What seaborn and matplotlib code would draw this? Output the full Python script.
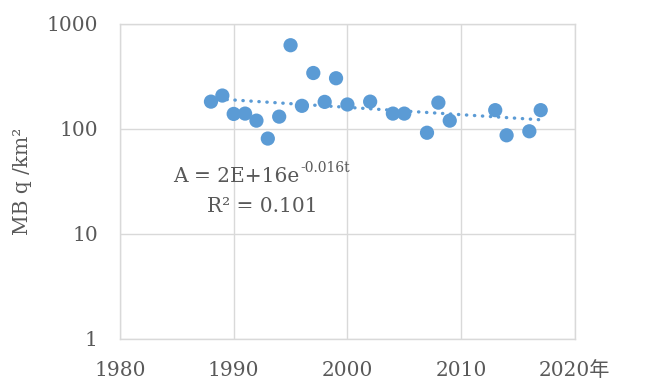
import numpy as np
import pandas as pd
import matplotlib
matplotlib.use("Agg")
import matplotlib.pyplot as plt
import seaborn as sns

years = [1988, 1989, 1990, 1991, 1992, 1993, 1994, 1995, 1996, 1997, 1998, 1999,
         2000, 2002, 2004, 2005, 2007, 2008, 2009, 2013, 2014, 2016, 2017]
mbq = [182, 208, 139, 140, 120, 81, 131, 627, 166, 341, 181, 304,
       171, 182, 140, 140, 92, 178, 120, 151, 87, 95, 151]
x_ticks = [1980, 1990, 2000, 2010, 2020]
x_tick_labels = ["1980", "1990", "2000", "2010", "2020年"]
y_ticks = [1, 10, 100, 1000]
y_tick_labels = ["1", "10", "100", "1000"]
eq_base = "A = 2E+16e"
eq_exp = "-0.016t"
r2_text = "R² = 0.101"
y_label = "MB q /km²"

sns.set_theme(style="white")
plt.rcParams['font.family'] = ['DejaVu Serif', 'Noto Sans CJK JP']

df = pd.DataFrame({"year": years, "mbq": mbq})
color = "#5B9BD5"
grid_c = "#D9D9D9"
text_c = "#595959"

fig = plt.figure(figsize=(6.63, 3.80), dpi=100)
ax = fig.add_axes([0.181, 0.108, 0.686, 0.829])

# exponential trendline (log-linear least squares)
b, a = np.polyfit(df["year"], np.log(df["mbq"]), 1)
tx = np.linspace(min(years), max(years), 100)
trend = pd.DataFrame({"year": tx, "fit": np.exp(a + b * tx)})
sns.lineplot(data=trend, x="year", y="fit", ax=ax, color=color, lw=2.4,
             linestyle=(0, (0.1, 2.3)), zorder=2)
ax.lines[-1].set_dash_capstyle("round")

sns.scatterplot(data=df, x="year", y="mbq", ax=ax, color=color, s=105,
                edgecolor="none", zorder=3)

ax.set_yscale("log")
ax.set_xlim(1980, 2020)
ax.set_ylim(1, 1000)
ax.set_xticks(x_ticks)
ax.set_xticklabels(x_tick_labels)
ax.set_yticks(y_ticks)
ax.set_yticklabels(y_tick_labels)
ax.minorticks_off()
ax.grid(True, color=grid_c, lw=1)
for s in ax.spines.values():
    s.set_color(grid_c)
    s.set_linewidth(1)
ax.tick_params(axis="both", length=0, labelsize=14.5, colors=text_c)
ax.tick_params(axis="x", pad=16)
ax.tick_params(axis="y", pad=16)
ax.set_xlabel("")
ax.set_ylabel(y_label, fontsize=14.5, color=text_c, labelpad=10)

ax.text(1995.8, 34.9, eq_base, fontsize=14.5, color=text_c, ha="right", va="center")
ax.annotate(eq_exp, xy=(1995.8, 34.9), xytext=(0.5, 1.5), textcoords="offset points",
            fontsize=10, color=text_c, ha="left", va="bottom")
ax.text(1992.5, 18.1, r2_text, fontsize=14.5, color=text_c, ha="center", va="center")

fig.savefig("out.png", dpi=100)
